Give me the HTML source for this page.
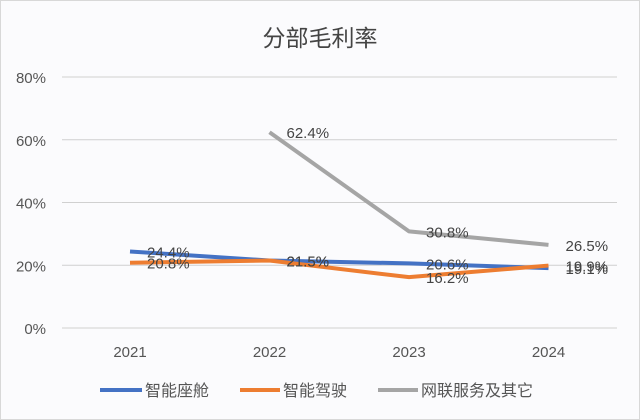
<!DOCTYPE html>
<html><head><meta charset="utf-8"><style>
body{margin:0;background:#fff}
svg{display:block;font-family:"Liberation Sans","Noto Sans CJK SC",sans-serif}
</style></head><body>
<svg width="640" height="420" viewBox="0 0 640 420">
<rect x="0.5" y="0.5" width="639" height="419" fill="#fbfbfd" stroke="#d8d8d8"/>
<text x="320" y="46" text-anchor="middle" font-size="23" fill="#444">分部毛利率</text>
<g id="grid"></g><g id="series"></g><g id="labels"></g>
<g font-size="16" fill="#555">
<line x1="100" y1="390" x2="142" y2="390" stroke="#4472c4" stroke-width="4"/>
<text x="145" y="396">智能座舱</text>
<line x1="240" y1="390" x2="280" y2="390" stroke="#ed7d31" stroke-width="4"/>
<text x="283" y="396">智能驾驶</text>
<line x1="378" y1="390" x2="418" y2="390" stroke="#a5a5a5" stroke-width="4"/>
<text x="421" y="396">网联服务及其它</text>
</g>
</svg>
<script>
const categories=["2021","2022","2023","2024"];
const cockpit=[24.4,21.5,20.6,19.1];
const driving=[20.8,21.5,16.2,19.9];
const connected=[null,62.4,30.8,26.5];
const yTicks=[0,20,40,60,80];
const NS="http://www.w3.org/2000/svg";
const x=i=>130+i*139.5;
const y=v=>328-v*(251/80);
function mk(t,a,p){const e=document.createElementNS(NS,t);for(const k in a)e.setAttribute(k,a[k]);p.appendChild(e);return e;}
const grid=document.getElementById('grid');
yTicks.forEach(v=>{
 const l=mk('line',{x1:62,x2:617,y1:y(v),y2:y(v),stroke:'#d0d0d0','stroke-width':1},grid);
 
 
 const t=mk('text',{x:46,y:y(v)+6,'text-anchor':'end','font-size':15,fill:'#555'},grid);
 t.textContent=v+'%';
 
 
});
categories.forEach((c,i)=>{
 const t=mk('text',{x:x(i),y:357,'text-anchor':'middle','font-size':15,fill:'#555'},grid);
 t.textContent=c;
 
 
});
const sg=document.getElementById('series'),lg=document.getElementById('labels');
[[cockpit,'#4472c4','cockpit'],[driving,'#ed7d31','driving'],[connected,'#a5a5a5','connected']].forEach(([d,col,n])=>{
 const pts=[];d.forEach((v,i)=>{if(v!==null)pts.push(x(i)+','+y(v));});
 const p=mk('polyline',{points:pts.join(' '),fill:'none',stroke:col,'stroke-width':4,'stroke-linejoin':'round'},sg);
 
 
 d.forEach((v,i)=>{if(v===null)return;
  const t=mk('text',{x:x(i)+17,y:y(v)+6,'font-size':15,fill:'#444'},lg);
  t.textContent=v.toFixed(1)+'%';
  
  
 });
});
</script>
</body></html>
